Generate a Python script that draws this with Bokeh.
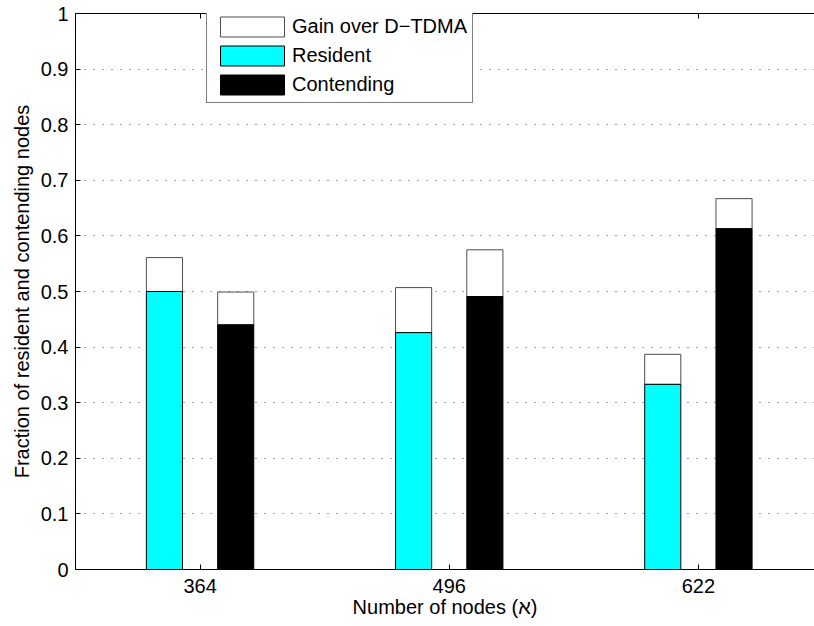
from bokeh.plotting import figure
from bokeh.models import Range1d, LinearAxis, FixedTicker, Legend, LegendItem, ColumnDataSource
from bokeh.embed import file_html
from bokeh.resources import INLINE

# ---- data ----
nodes = ["364", "496", "622"]
resident = [0.500, 0.426, 0.333]
resident_gain = [0.061, 0.081, 0.054]
contending = [0.440, 0.491, 0.613]
contending_gain = [0.059, 0.084, 0.054]
y_ticks = [0, 0.1, 0.2, 0.3, 0.4, 0.5, 0.6, 0.7, 0.8, 0.9, 1]
y_tick_labels = ["0", "0.1", "0.2", "0.3", "0.4", "0.5", "0.6", "0.7", "0.8", "0.9", "1"]

FONT = "Liberation Sans"
FS = "20px"
offset = 0.143
bw = 0.145

pos = [i + 1 for i in range(len(nodes))]
src = ColumnDataSource(dict(
    xr=[x - offset for x in pos],
    xc=[x + offset for x in pos],
    res=resident,
    res_top=[a + b for a, b in zip(resident, resident_gain)],
    con=contending,
    con_top=[a + b for a, b in zip(contending, contending_gain)],
))

p = figure(width=814, height=626, x_range=Range1d(0.5, 3.466), y_range=Range1d(0, 1),
           output_backend="svg", toolbar_location=None,
           min_border_left=75, min_border_right=0, min_border_top=13, min_border_bottom=57)
p.outline_line_color = None
p.background_fill_color = "white"
p.border_fill_color = "white"

g1 = p.vbar(x="xr", width=bw, bottom="res", top="res_top", source=src,
            fill_color="white", line_color="#4d4d4d", line_width=1)
g2 = p.vbar(x="xc", width=bw, bottom="con", top="con_top", source=src,
            fill_color="white", line_color="#4d4d4d", line_width=1)
r1 = p.vbar(x="xr", width=bw, bottom=0, top="res", source=src,
            fill_color="#00ffff", line_color="black", line_width=1)
r2 = p.vbar(x="xc", width=bw, bottom=0, top="con", source=src,
            fill_color="black", line_color="black", line_width=1)

# axes
for ax in (p.xaxis[0], p.yaxis[0]):
    ax.major_tick_in = 5
    ax.major_tick_out = 0
    ax.minor_tick_line_color = None
    ax.major_label_text_font = FONT
    ax.major_label_text_font_size = FS
    ax.major_label_text_color = "black"
    ax.axis_label_text_font = FONT
    ax.axis_label_text_font_size = FS
    ax.axis_label_text_font_style = "normal"
    ax.axis_label_text_color = "black"
    ax.axis_line_color = "black"
    ax.major_tick_line_color = "black"

p.xaxis.ticker = FixedTicker(ticks=pos)
p.xaxis.major_label_overrides = {x: n for x, n in zip(pos, nodes)}
p.xaxis.axis_label = "Number of nodes (\u05d0)"
p.xaxis.major_label_standoff = 9
p.xaxis.axis_label_standoff = 0

p.yaxis.ticker = FixedTicker(ticks=y_ticks)
p.yaxis.major_label_overrides = {t: l for t, l in zip(y_ticks, y_tick_labels)}
p.yaxis.axis_label = "Fraction of resident and contending nodes"
p.yaxis.major_label_standoff = 7
p.yaxis.axis_label_standoff = 5

top = LinearAxis(ticker=FixedTicker(ticks=pos), major_label_text_font_size="1px",
                 major_label_overrides={x: "" for x in pos},
                 major_tick_in=5, major_tick_out=0, major_label_standoff=0,
                 minor_tick_line_color=None, axis_line_color="black",
                 major_tick_line_color="black")
p.add_layout(top, "above")

p.xgrid.visible = False
p.ygrid.ticker = FixedTicker(ticks=y_ticks[1:-1])
p.ygrid.grid_line_color = "#444444"
p.ygrid.grid_line_dash = "1 8"
p.ygrid.grid_line_width = 1

legend = Legend(items=[
    LegendItem(label="Gain over D\u2212TDMA", renderers=[g1]),
    LegendItem(label="Resident", renderers=[r1]),
    LegendItem(label="Contending", renderers=[r2]),
], location=(131, 466))
legend.label_text_font = FONT
legend.label_text_font_size = FS
legend.label_text_color = "black"
legend.glyph_width = 80
legend.glyph_height = 25
legend.label_height = 25
legend.spacing = 4
legend.padding = 5
legend.margin = 0
legend.label_standoff = -2
legend.border_line_color = "black"
legend.border_line_width = 1
legend.background_fill_alpha = 1
p.add_layout(legend)

open("out.html", "w").write(file_html(p, INLINE))
